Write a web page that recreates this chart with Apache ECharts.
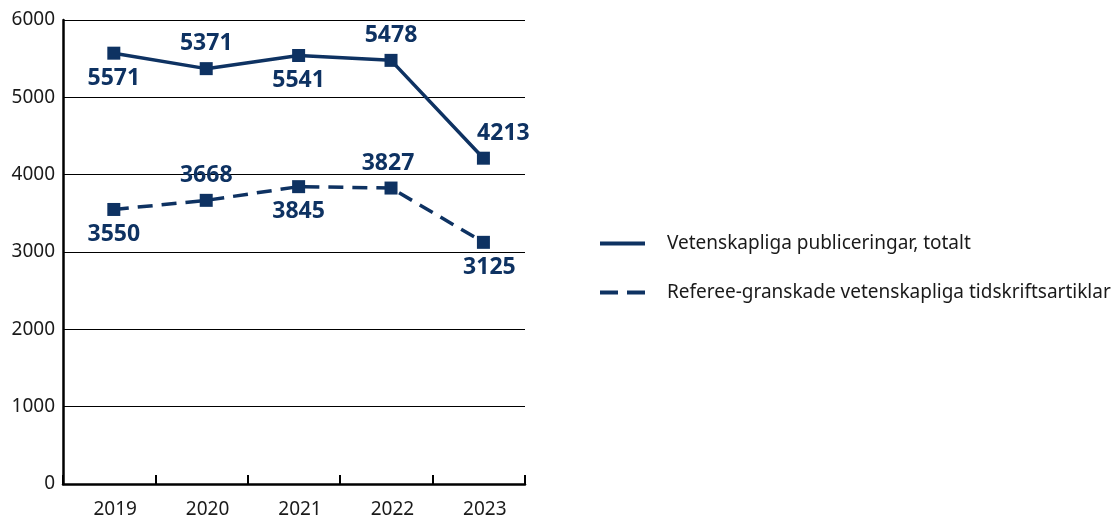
<!DOCTYPE html>
<html>
<head>
<meta charset="utf-8">
<script src="https://cdn.jsdelivr.net/npm/echarts@6/dist/echarts.min.js"></script>
<style>
  html, body { margin: 0; padding: 0; background: #fff; }
  #chart { width: 1117px; height: 516px; }
</style>
</head>
<body>
<div id="chart"></div>
<script>
var years = ['2019', '2020', '2021', '2022', '2023'];
var totalt = [5571, 5371, 5541, 5478, 4213];
var referee = [3550, 3668, 3845, 3827, 3125];
var yTicks = [0, 1000, 2000, 3000, 4000, 5000, 6000];
var seriesNames = ['Vetenskapliga publiceringar, totalt', 'Referee-granskade vetenskapliga tidskriftsartiklar'];

// label placement per point: above or below
var totaltPos = ['bottom', 'top', 'bottom', 'top', 'top'];
var refereePos = ['bottom', 'top', 'bottom', 'top', 'bottom'];

var navy = '#0e3262';

function pts(vals, pos, shift) {
    return vals.map(function (v, i) {
        return {
            value: [i, v],
            label: { position: pos[i], offset: [shift[i] || 0, 0] }
        };
    });
}

var chart = echarts.init(document.getElementById('chart'));

var option = {
    animation: false,
    grid: { left: 63, right: 592, top: 20, bottom: 32, outerBoundsMode: 'none' },
    legend: {
        orient: 'vertical',
        left: 593,
        top: 229,
        itemWidth: 45,
        itemHeight: 20,
        itemGap: 30,
        itemStyle: { opacity: 0 },
        lineStyle: { width: 4 },
        textStyle: {
            fontFamily: 'Noto Sans',
            fontSize: 19,
            color: '#1a1a1a',
            padding: [0, 0, 0, 17]
        },
        data: [
            { name: seriesNames[0] },
            { name: seriesNames[1], lineStyle: { width: 4, type: [18, 9] } }
        ]
    },
    xAxis: [{
        type: 'value',
        min: -0.55,
        max: 4.45,
        interval: 1,
        axisLine: { show: true, lineStyle: { color: '#000', width: 2.5 } },
        axisTick: { show: true, inside: true, length: 9, lineStyle: { color: '#000', width: 2 } },
        axisLabel: { show: false },
        splitLine: { show: false }
    }, {
        type: 'category',
        data: years,
        position: 'bottom',
        boundaryGap: true,
        axisLine: { show: false },
        axisTick: { show: false },
        axisLabel: {
            margin: 16,
            fontFamily: 'Noto Sans',
            fontSize: 19,
            color: '#1a1a1a',
            padding: [0, 0, 0, 12]
        }
    }],
    yAxis: {
        type: 'value',
        min: yTicks[0],
        max: yTicks[yTicks.length - 1],
        interval: 1000,
        axisLine: { show: true, onZero: false, lineStyle: { color: '#000', width: 2.5 } },
        axisTick: { show: false },
        axisLabel: {
            margin: 8,
            fontFamily: 'Noto Sans',
            fontSize: 19,
            color: '#1a1a1a',
            formatter: function (v) { return String(v); }
        },
        splitLine: { show: true, lineStyle: { color: '#000', width: 1 } }
    },
    series: [{
        name: seriesNames[0],
        type: 'line',
        xAxisIndex: 0,
        data: pts(totalt, totaltPos, [0, 0, 0, 0, 20]),
        symbol: 'rect',
        symbolSize: 13,
        itemStyle: { color: navy },
        lineStyle: { color: navy, width: 3.5 },
        label: {
            show: true,
            distance: 7,
            fontFamily: 'Noto Sans',
            fontWeight: 'bold',
            fontSize: 23,
            color: navy
        }
    }, {
        name: seriesNames[1],
        type: 'line',
        xAxisIndex: 0,
        data: pts(referee, refereePos, [0, 0, 0, -3, 6]),
        symbol: 'rect',
        symbolSize: 13,
        itemStyle: { color: navy },
        lineStyle: { color: navy, width: 3.5, type: [15, 9] },
        label: {
            show: true,
            distance: 7,
            fontFamily: 'Noto Sans',
            fontWeight: 'bold',
            fontSize: 23,
            color: navy
        }
    }]
};

chart.setOption(option);
</script>
</body>
</html>
